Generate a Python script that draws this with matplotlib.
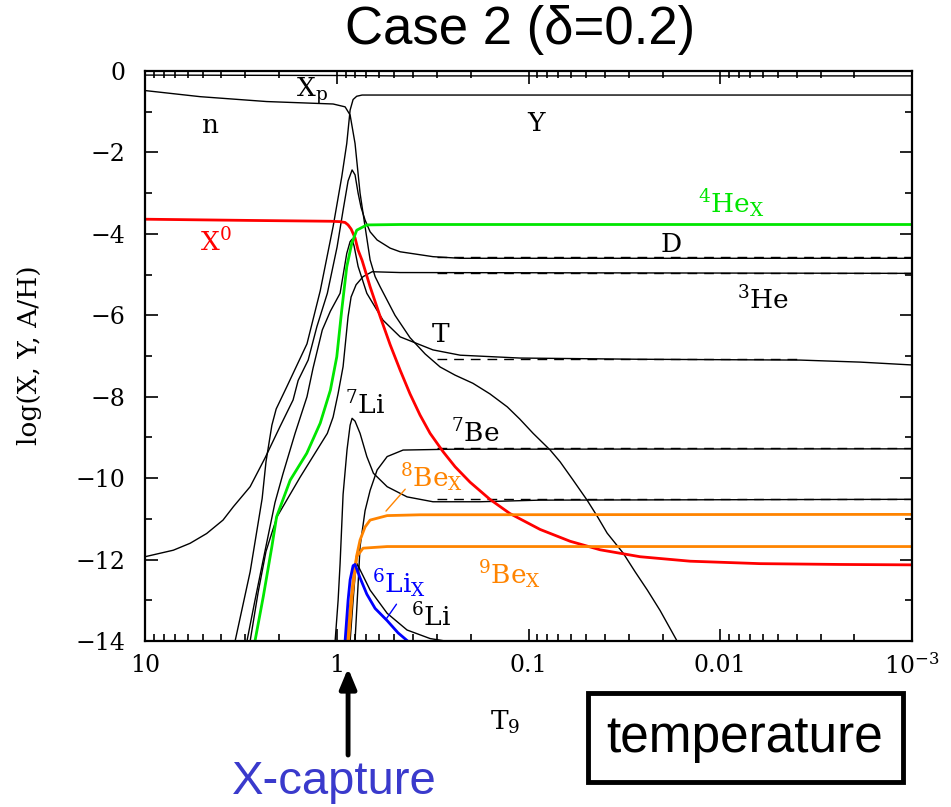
import matplotlib.pyplot as plt
from matplotlib.patches import Rectangle

plt.rcParams['font.family'] = ['DejaVu Serif']
plt.rcParams['mathtext.fontset'] = 'dejavuserif'

# log10 abundances against T9 (temperature in 10^9 K)
t_xp = [10, 1.0, 0.5, 0.001]
xp = [-0.10, -0.11, -0.12, -0.12]

t_n = [10, 5.16, 2.32, 1.045, 0.905, 0.852, 0.803, 0.756, 0.712, 0.670, 0.631, 0.594, 0.497,
       0.415, 0.346, 0.289, 0.2415, 0.195, 0.159, 0.129, 0.111, 0.0946, 0.0771, 0.0684, 0.0585,
       0.0495, 0.0439, 0.0389, 0.0321, 0.0278, 0.0240, 0.0206, 0.0168, 0.0150]
n = [-0.48, -0.63, -0.75, -0.81, -0.88, -1.08, -1.78, -3.0, -3.82, -4.64, -5.05, -5.3, -6.0,
     -6.55, -6.95, -7.27, -7.47, -7.67, -7.93, -8.25, -8.55, -8.9, -9.31, -9.6, -10.05,
     -10.54, -10.93, -11.35, -11.84, -12.3, -12.75, -13.25, -14.0, -14.4]

t_he4 = [3.60, 3.39, 2.83, 2.45, 2.34, 2.18, 2.07, 1.82, 1.43, 1.22, 1.045, 0.942, 0.887,
         0.852, 0.822, 0.787, 0.738, 0.001]
he4 = [-14.6, -14.0, -12.3, -10.5, -9.6, -8.7, -8.3, -7.75, -6.7, -5.4, -3.82, -2.6, -1.78,
       -0.96, -0.7, -0.62, -0.59, -0.59]

t_d = [10, 7.12, 5.82, 4.77, 3.92, 3.46, 2.83, 2.37, 1.98, 1.69, 1.59, 1.41, 1.27, 1.12, 0.996,
       0.927, 0.873, 0.832, 0.803, 0.774, 0.747, 0.712, 0.670, 0.616, 0.527, 0.467, 0.315,
       0.227, 0.001]
d = [-11.93, -11.77, -11.6, -11.36, -11.03, -10.7, -10.21, -9.51, -8.74, -8.08, -7.6, -7.1,
     -6.28, -5.46, -4.32, -3.42, -2.7, -2.43, -2.55, -3.0, -3.35, -3.66, -3.95, -4.15, -4.35,
     -4.44, -4.56, -4.6, -4.6]

t_t = [3.12, 2.94, 2.67, 2.37, 2.10, 1.91, 1.65, 1.43, 1.33, 1.19, 1.08, 0.961, 0.887, 0.852,
       0.832, 0.812, 0.774, 0.697, 0.574, 0.467, 0.315, 0.227, 0.111, 0.0262, 0.00383, 0.00186,
       0.001]
tri = [-14.6, -14, -13, -11.8, -10.6, -9.9, -8.9, -8.0, -7.3, -6.36, -5.9, -5.46, -4.48, -4.19,
       -4.13, -4.3, -4.8, -5.46, -6.12, -6.53, -6.85, -6.98, -7.05, -7.08, -7.1, -7.15, -7.22]

t_he3 = [3.01, 2.83, 2.57, 2.34, 2.05, 1.55, 1.12, 1.045, 0.984, 0.927, 0.873, 0.842, 0.793,
         0.729, 0.654, 0.467, 0.001]
he3 = [-14.6, -14, -12.8, -11.8, -10.95, -9.97, -8.9, -8.5, -7.92, -7.26, -6.03, -5.55, -5.25,
       -5.05, -4.93, -4.95, -4.97]

t_li7 = [1.045, 1.02, 0.984, 0.961, 0.927, 0.884, 0.852, 0.832, 0.803, 0.756, 0.697, 0.644,
         0.546, 0.430, 0.315, 0.179, 0.0870, 0.001]
li7 = [-14.8, -14, -13, -12.1, -10.4, -9.3, -8.7, -8.53, -8.6, -8.9, -9.47, -9.88,
       -10.21, -10.46, -10.58, -10.58, -10.54, -10.52]

t_be7 = [0.812, 0.803, 0.774, 0.756, 0.712, 0.670, 0.616, 0.546, 0.451, 0.256, 0.001]
be7 = [-14.6, -14, -12.6, -11.68, -10.8, -10.3, -9.8, -9.47, -9.31, -9.29, -9.28]

t_li6 = [0.863, 0.852, 0.822, 0.803, 0.784, 0.738, 0.670, 0.546, 0.430, 0.326, 0.272, 0.179]
li6 = [-14.6, -14, -13, -12.4, -12.1, -12.35, -12.75, -13.32, -13.73, -13.94, -14, -14.2]

# standard-BBN freeze-out values (dashed)
t_std = [0.3, 0.001]
t_std_t = [0.3, 0.004]
d_std = [-4.58, -4.58]
he3_std = [-4.95, -4.95]
t3_std = [-7.07, -7.07]
be7_std = [-9.27, -9.27]
li7_std = [-10.51, -10.51]

t_x0 = [10, 2.83, 1.08, 0.961, 0.905, 0.873, 0.842, 0.803, 0.774, 0.738, 0.670, 0.594, 0.527,
        0.467, 0.415, 0.368, 0.326, 0.279, 0.2415, 0.2017, 0.159, 0.125, 0.0870, 0.0607,
        0.0423, 0.0262, 0.01435, 0.00619, 0.00237, 0.001]
x0 = [-3.64, -3.67, -3.69, -3.70, -3.72, -3.78, -3.88, -4.1, -4.4, -4.65, -5.3, -6.03, -6.72,
      -7.35, -7.93, -8.45, -8.9, -9.35, -9.72, -10.1, -10.52, -10.87, -11.26, -11.55,
      -11.76, -11.93, -12.04, -12.1, -12.12, -12.13]

t_hex = [2.77, 2.67, 2.415, 2.18, 2.06, 1.75, 1.434, 1.22, 1.08, 1.0, 0.942, 0.887, 0.835,
         0.787, 0.697, 0.467, 0.001]
hex_ = [-14.5, -14, -12.9, -11.68, -10.95, -10.05, -9.39, -8.65, -7.84, -7.02, -5.87, -4.81,
        -4.23, -3.91, -3.78, -3.77, -3.77]

t_be8x = [0.894, 0.887, 0.852, 0.822, 0.787, 0.756, 0.712, 0.670, 0.546, 0.368, 0.001]
be8x = [-14.6, -14, -13.2, -12.5, -11.9, -11.52, -11.2, -11.03, -10.92, -10.9, -10.89]

t_be9x = [0.878, 0.868, 0.832, 0.787, 0.729, 0.546, 0.001]
be9x = [-14.6, -14, -12.9, -11.93, -11.72, -11.68, -11.68]

t_li6x = [0.916, 0.905, 0.873, 0.852, 0.822, 0.803, 0.756, 0.697, 0.631, 0.546, 0.479, 0.415,
          0.368]
li6x = [-14.6, -14, -13, -12.5, -12.15, -12.12, -12.45, -12.85, -13.2, -13.5, -13.8, -14.05,
        -14.3]

x_ticks = [10, 1, 0.1, 0.01, 0.001]
x_ticklabels = ['10', '1', '0.1', '0.01', r'$10^{-3}$']
y_ticks = [0, -2, -4, -6, -8, -10, -12, -14]

RED = '#ff0000'
GREEN = '#00e600'
ORANGE = '#ff8400'
BLUE = '#0000ff'

fig = plt.figure(figsize=(9.51, 8.07), dpi=100)
ax = fig.add_axes([0.1525, 0.2057, 0.8065, 0.7063])

for tt, yy in [(t_xp, xp), (t_n, n), (t_he4, he4), (t_d, d), (t_t, tri), (t_he3, he3),
               (t_li7, li7), (t_be7, be7), (t_li6, li6)]:
    ax.plot(tt, yy, color='black', lw=1.0)

for tt, yy in [(t_std, d_std), (t_std, he3_std), (t_std_t, t3_std), (t_std, be7_std),
               (t_std, li7_std)]:
    ax.plot(tt, yy, color='black', lw=1.0, dashes=(7, 5))

ax.plot(t_x0, x0, color=RED, lw=2.0)
ax.plot(t_hex, hex_, color=GREEN, lw=2.0)
ax.plot(t_be8x, be8x, color=ORANGE, lw=2.0)
ax.plot(t_be9x, be9x, color=ORANGE, lw=2.0)
ax.plot(t_li6x, li6x, color=BLUE, lw=2.0)

ax.set_xscale('log')
ax.set_xlim(10, 1e-3)
ax.set_ylim(-14, 0)
ax.set_xticks(x_ticks, x_ticklabels)
ax.set_yticks(y_ticks, [str(v).replace('-', '\u2212') for v in y_ticks])
ax.set_yticks(range(-13, 0, 2), minor=True)
ax.tick_params(which='both', direction='in', top=True, right=True, labelsize=17)
ax.tick_params(which='major', length=9, width=1.2)
ax.tick_params(which='minor', length=5, width=1.2)
ax.tick_params(axis='y', pad=14)
ax.tick_params(axis='x', pad=9)
for s in ax.spines.values():
    s.set_linewidth(1.6)

# curve labels
lab = dict(fontsize=19, ha='center', va='center')
ax.text(4.53, -1.33, 'n', **lab)
ax.text(0.0912, -1.30, 'Y', **lab)
ax.text(1.35, -0.5, r'X$_\mathrm{p}$', **lab)
ax.text(4.26, -4.2, r'X$^0$', color=RED, **lab)
ax.text(0.00877, -3.24, r'$^4$He$_\mathrm{X}$', color=GREEN, **lab)
ax.text(0.0180, -4.25, 'D', **lab)
ax.text(0.00597, -5.63, r'$^3$He', **lab)
ax.text(0.286, -6.48, 'T', **lab)
ax.text(0.712, -8.2, r'$^7$Li', **lab)
ax.text(0.190, -8.89, r'$^7$Be', **lab)
ax.text(0.322, -10.0, r'$^8$Be$_\mathrm{X}$', color=ORANGE, **lab)
ax.text(0.125, -12.38, r'$^9$Be$_\mathrm{X}$', color=ORANGE, **lab)
ax.text(0.473, -12.58, r'$^6$Li$_\mathrm{X}$', color=BLUE, **lab)
ax.text(0.322, -13.41, r'$^6$Li', **lab)
ax.annotate('', xy=(0.566, -10.86), xytext=(0.430, -10.22),
            arrowprops=dict(arrowstyle='-', color=ORANGE, lw=1.0))
ax.annotate('', xy=(0.560, -13.50), xytext=(0.479, -13.04),
            arrowprops=dict(arrowstyle='-', color=BLUE, lw=1.0))

fig.text(0.0315, 0.560, 'log(X, Y, A/H)', rotation=90, fontsize=19, ha='center', va='center')
fig.text(0.531, 0.105, r'T$_9$', fontsize=19, ha='center', va='center')

sans = ['Liberation Sans', 'DejaVu Sans']
fig.text(0.547, 0.963, 'Case 2 (\u03b4=0.2)', fontsize=38, family=sans, ha='center', va='center')

fig.patches.append(Rectangle((588 / 951, 1 - 782 / 807), 315 / 951, 89 / 807,
                             transform=fig.transFigure, fill=False, lw=3.5, ec='black'))
fig.text(0.783, 0.0855, 'temperature', fontsize=37, family=sans, ha='center', va='center')

fig.text(0.352, 0.031, 'X-capture', fontsize=34, family=sans, color='#3a3acc',
         ha='center', va='center')
ax.annotate('', xy=(0.366, 0.172), xytext=(0.366, 0.0644), xycoords='figure fraction',
            arrowprops=dict(arrowstyle='-|>,head_width=0.5,head_length=1.2', color='black',
                            lw=3.5, shrinkA=0, shrinkB=0))

fig.savefig('out.png', dpi=100)
